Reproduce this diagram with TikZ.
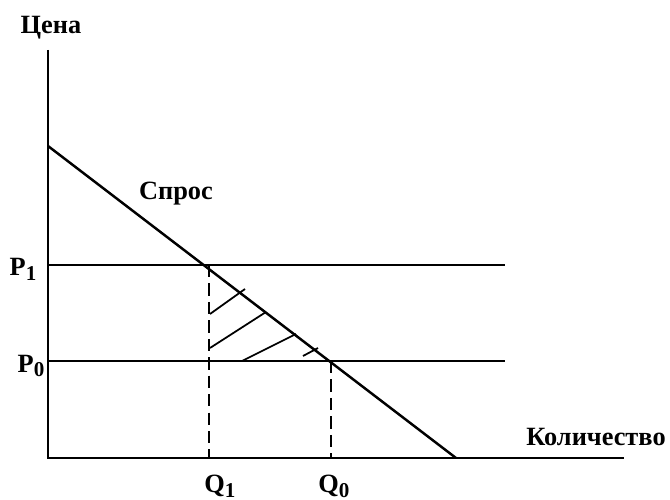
\documentclass[tikz,border=0pt]{standalone}
\usepackage{fontspec}
\setmainfont{Liberation Serif}
\newcommand{\lowidx}[1]{\raisebox{-0.4ex}{\fontsize{12}{12}\selectfont #1}}
\begin{document}
\begin{tikzpicture}[
    x=0.02cm, y=-0.02cm,
    font=\fontsize{15}{17}\selectfont\bfseries,
    axis/.style={draw=black, line width=1.4pt},
    level/.style={draw=black, line width=1.4pt},
    guide/.style={draw=black, line width=1pt, dash pattern=on 7pt off 3.5pt},
    hatch/.style={draw=black, line width=1pt},
    label/.style={inner sep=0pt},
]
    \useasboundingbox (0,0) rectangle (670,500);

    % axes
    \coordinate (origin) at (48,458);
    \coordinate (ytop) at (48,50);
    \coordinate (xend) at (624,458);
    \draw[axis] (ytop) -- (origin) -- (xend);
    \node[label] (price) at (51,28) {Цена};
    \node[label] (quantity) at (596,437) {Количество};

    % demand
    \coordinate (dtop) at (48,146);
    \coordinate (dbot) at (456,458);
    \draw[axis] (dtop) -- (dbot);
    \node[label] (demand) at (176,194) {Спрос};

    % price levels
    \coordinate (p1) at (48,265);
    \coordinate (p1end) at (505,265);
    \coordinate (p0) at (48,361);
    \coordinate (p0end) at (505,361);
    \draw[level] (p1) -- (p1end);
    \draw[level] (p0) -- (p0end);
    \node[label] (p1lab) at (23,269) {P\lowidx{1}};
    \node[label] (p0lab) at (31,366) {P\lowidx{0}};

    % quantities
    \coordinate (q1top) at (209,265);
    \coordinate (q1) at (209,458);
    \coordinate (q0top) at (331,361);
    \coordinate (q0) at (331,458);
    \draw[guide] (q1top) -- (q1);
    \draw[guide] (q0top) -- (q0);
    \node[label] (q1lab) at (220,486) {Q\lowidx{1}};
    \node[label] (q0lab) at (334,486) {Q\lowidx{0}};

    % hatched triangle
    \draw[hatch] (210,314) -- (245,289);
    \draw[hatch] (210,348) -- (266,312);
    \draw[hatch] (242,361) -- (296,334);
    \draw[hatch] (303,356) -- (318,348);
\end{tikzpicture}
\end{document}
